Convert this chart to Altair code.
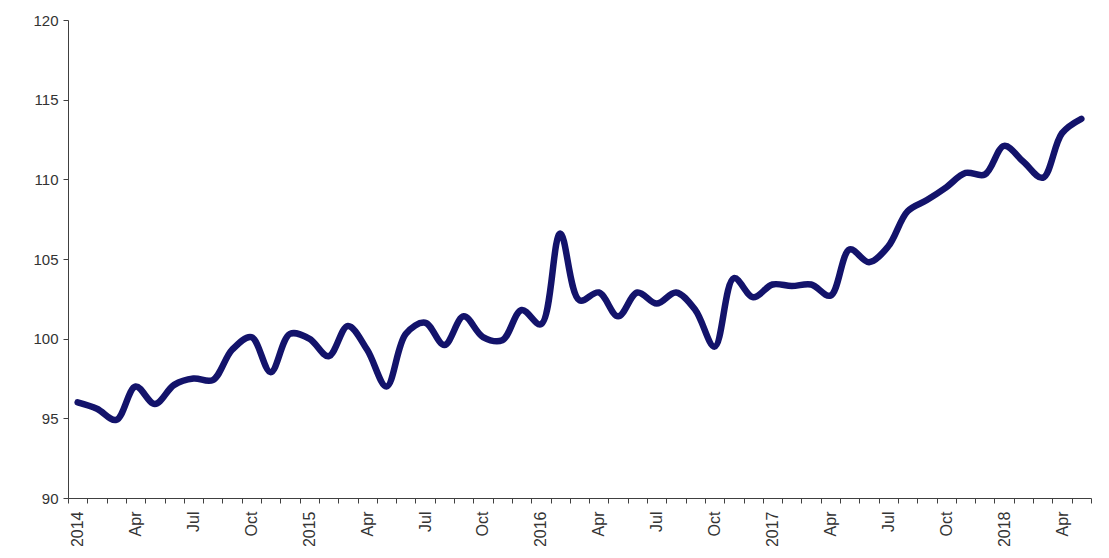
import json
import altair as alt
import pandas as pd

# Monthly index values, Jan 2014 .. May 2018
values = [
    96.0, 95.6, 94.9, 97.0, 95.9, 97.1, 97.5, 97.4, 99.3, 100.1, 97.9, 100.3,
    100.0, 98.9, 100.8, 99.3, 97.0, 100.3, 101.0, 99.6, 101.4, 100.1, 99.9, 101.8,
    100.9, 106.6, 102.4, 102.9, 101.4, 102.9, 102.2, 102.9, 101.8, 99.5, 103.8, 102.6,
    103.4, 103.3, 103.4, 102.7, 105.6, 104.8, 105.8, 108.0, 108.7, 109.5, 110.4, 110.3,
    112.1, 111.1, 110.1, 112.9, 113.8,
]
years = ["2014", "2015", "2016", "2017", "2018"]
quarter_labels = {3: "Apr", 6: "Jul", 9: "Oct"}

tick_labels = []
for i in range(len(values)):
    y, m = divmod(i, 12)
    if m == 0:
        tick_labels.append(years[y])
    elif m in quarter_labels:
        tick_labels.append(quarter_labels[m])
    else:
        tick_labels.append("")

df = pd.DataFrame({"m": list(range(len(values))), "v": values})

label_expr = json.dumps(tick_labels) + "[datum.value]"

axis_color = "#404040"

chart = (
    alt.Chart(df)
    .mark_line(color="#13136b", strokeWidth=6.5, interpolate="catmull-rom", strokeCap="round")
    .encode(
        x=alt.X(
            "m:O",
            bandPosition=0.5,
            scale=alt.Scale(type="band", paddingInner=0, paddingOuter=0),
            axis=alt.Axis(
                title=None,
                labelExpr=label_expr,
                labelAngle=-90,
                labelAlign="right",
                labelBaseline="middle",
                tickBand="extent",
                tickSize=5,
                labelPadding=8,
                labelFont="Liberation Sans",
                labelFontSize=16,
                labelColor="#333333",
                domainColor=axis_color,
                tickColor=axis_color,
                labelOverlap=False,
                grid=False,
            ),
        ),
        y=alt.Y(
            "v:Q",
            scale=alt.Scale(domain=[90, 120], nice=False, zero=False),
            axis=alt.Axis(
                title=None,
                values=[90, 95, 100, 105, 110, 115, 120],
                tickSize=5,
                labelPadding=5,
                labelFont="Liberation Sans",
                labelFontSize=15,
                labelColor="#333333",
                domainColor=axis_color,
                tickColor=axis_color,
                grid=False,
            ),
        ),
    )
    .properties(
        width=1023,
        height=478,
        background="white",
        autosize=alt.AutoSizeParams(type="none"),
        padding={"left": 60, "top": 12, "right": 2, "bottom": 48},
    )
    .configure_view(strokeWidth=0, stroke="transparent")
)

chart.save("out.html", embed_options={"renderer": "svg", "actions": False})
